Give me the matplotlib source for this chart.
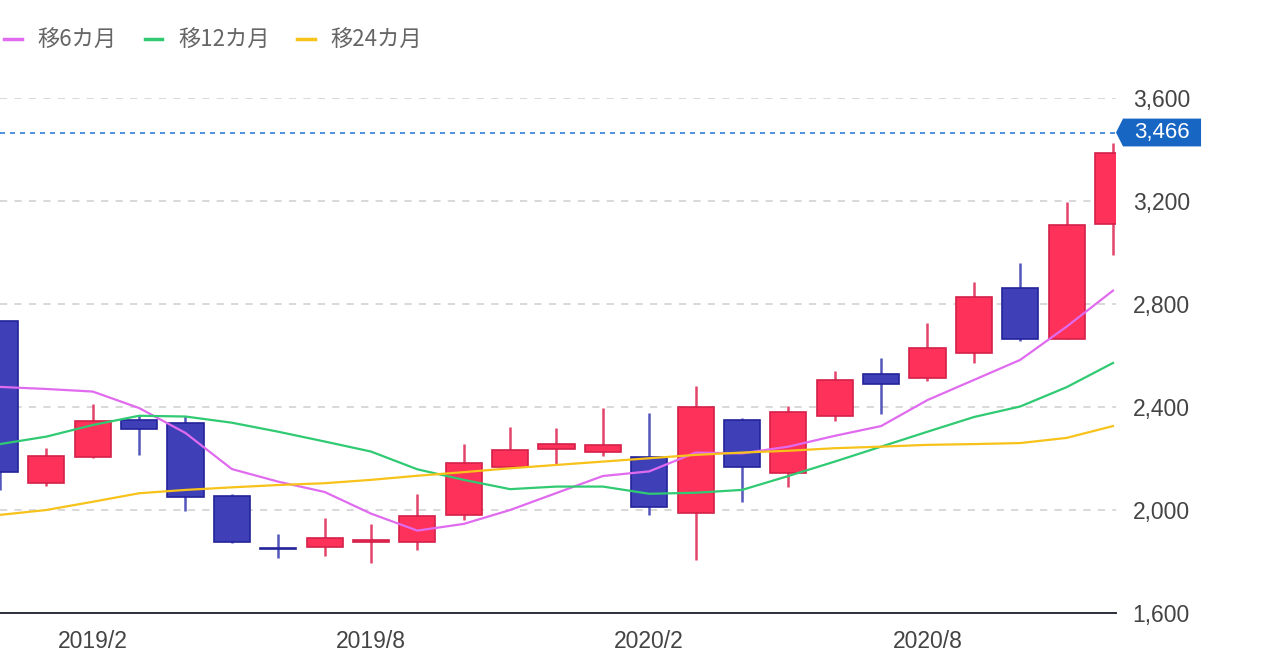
import matplotlib
matplotlib.use("Agg")
import matplotlib.pyplot as plt
from matplotlib.patches import Polygon
import numpy as np

# monthly candles 2018/12 .. 2020/12
months = ["2018/12", "2019/1", "2019/2", "2019/3", "2019/4", "2019/5", "2019/6",
          "2019/7", "2019/8", "2019/9", "2019/10", "2019/11", "2019/12",
          "2020/1", "2020/2", "2020/3", "2020/4", "2020/5", "2020/6",
          "2020/7", "2020/8", "2020/9", "2020/10", "2020/11", "2020/12"]
opens = [2735, 2106, 2205, 2350, 2339, 2056, 1853, 1858, 1877, 1875, 1981, 2166, 2237,
         2227, 2207, 1990, 2350, 2145, 2365, 2528, 2512, 2609, 2861, 2663, 3110]
highs = [2735, 2242, 2412, 2369, 2365, 2062, 1907, 1970, 1945, 2061, 2255, 2324, 2317,
         2397, 2378, 2482, 2357, 2404, 2540, 2589, 2728, 2884, 2958, 3197, 3426]
lows = [2078, 2095, 2200, 2214, 1996, 1873, 1815, 1820, 1793, 1845, 1961, 2162, 2175,
        2210, 1981, 1806, 2030, 2091, 2347, 2373, 2501, 2572, 2656, 2663, 2990]
closes = [2147, 2210, 2346, 2314, 2052, 1875, 1848, 1893, 1882, 1978, 2184, 2233, 2255,
          2253, 2011, 2399, 2168, 2382, 2505, 2488, 2628, 2826, 2663, 3107, 3388]

ma6 = [2478, 2470, 2460, 2396, 2299, 2159, 2110, 2070, 1986, 1920, 1946, 2000, 2066,
       2132, 2150, 2223, 2220, 2246, 2288, 2326, 2427, 2505, 2583, 2712, 2852]
ma12 = [2256, 2285, 2330, 2366, 2363, 2339, 2304, 2266, 2227, 2158, 2117, 2081, 2091,
        2091, 2063, 2067, 2078, 2132, 2188, 2246, 2304, 2361, 2402, 2477, 2571]
ma24 = [1981, 2000, 2032, 2065, 2078, 2088, 2097, 2104, 2117, 2133, 2147, 2162, 2175,
        2188, 2201, 2214, 2223, 2230, 2240, 2246, 2253, 2256, 2260, 2280, 2326]

last_price = 3466
tick_months = ["2019/2", "2019/8", "2020/2", "2020/8"]
y_ticks = [1600, 2000, 2400, 2800, 3200, 3600]

UP = "#fd3159"
UP_EDGE = "#d42049"
DOWN = "#3f40b8"
DOWN_EDGE = "#23249a"

fig = plt.figure(figsize=(12.79, 6.69), dpi=100)
ax = fig.add_axes([0, 56 / 669, 1116 / 1279, 515 / 669])

x = np.arange(len(months))
o = np.array(opens); c = np.array(closes)
up = c >= o
body_col = [UP if u else DOWN for u in up]
edge_col = [UP_EDGE if u else DOWN_EDGE for u in up]
wick_col = ["#e2456a" if u else "#5556bb" for u in up]

ax.vlines(x, lows, highs, colors=wick_col, linewidth=1.8, zorder=2)
ax.bar(x, np.abs(c - o), bottom=np.minimum(o, c), width=0.78,
       color=body_col, edgecolor=edge_col, linewidth=1.2, zorder=3)

ax.plot(x, ma6, color="#e06bef", linewidth=1.6, label="移6カ月", zorder=4)
ax.plot(x, ma12, color="#2fca72", linewidth=1.6, label="移12カ月", zorder=4)
ax.plot(x, ma24, color="#f7c21a", linewidth=1.6, label="移24カ月", zorder=4)

# current price line + tag
ax.axhline(last_price, color="#2f7fd6", linewidth=1.2, linestyle=(0, (3, 3)), zorder=1)
trans = ax.get_yaxis_transform()
h = 54
tag = Polygon([[1.0, last_price], [1.0063, last_price + h], [1.0762, last_price + h],
               [1.0762, last_price - h], [1.0063, last_price - h]],
              closed=True, transform=trans, clip_on=False,
              facecolor="#1766c4", edgecolor="none", zorder=5)
ax.add_patch(tag)
ax.text(1.0415, last_price, "{:,}".format(last_price), transform=trans,
        ha="center", va="center", color="white", fontsize=16,
        family="Liberation Sans", zorder=6)

ax.set_xlim(0, 24.065)
ax.set_ylim(1600, 3600)

ax.set_yticks(y_ticks)
ax.set_yticklabels(["{:,}".format(v) for v in y_ticks])
ax.yaxis.tick_right()
ax.set_xticks([months.index(m) for m in tick_months])
ax.set_xticklabels(tick_months)
ax.tick_params(axis="both", length=0, labelsize=16.5, labelcolor="#444444")
ax.tick_params(axis="y", pad=12)
ax.tick_params(axis="x", pad=12)
for lab in ax.get_xticklabels() + ax.get_yticklabels():
    lab.set_family("Liberation Sans")

for v in y_ticks[1:]:
    ax.axhline(v, color="#d6d6d6", linewidth=1.3, linestyle=(0, (4, 4)), zorder=0)

for s in ["top", "left", "right"]:
    ax.spines[s].set_visible(False)
ax.spines["bottom"].set_color("#2b2f3a")
ax.spines["bottom"].set_linewidth(1.4)

leg = fig.legend(loc="upper left", bbox_to_anchor=(0.0, 0.963), ncol=3, frameon=False,
                 handlelength=0.8, handletextpad=0.7, columnspacing=1.25,
                 borderaxespad=0, borderpad=0.2,
                 prop={"family": ["Noto Sans CJK JP", "DejaVu Sans"], "size": 16})
for t in leg.get_texts():
    t.set_color("#666666")
for ln in leg.get_lines():
    ln.set_linewidth(2.5)

fig.savefig("out.png", dpi=100)
